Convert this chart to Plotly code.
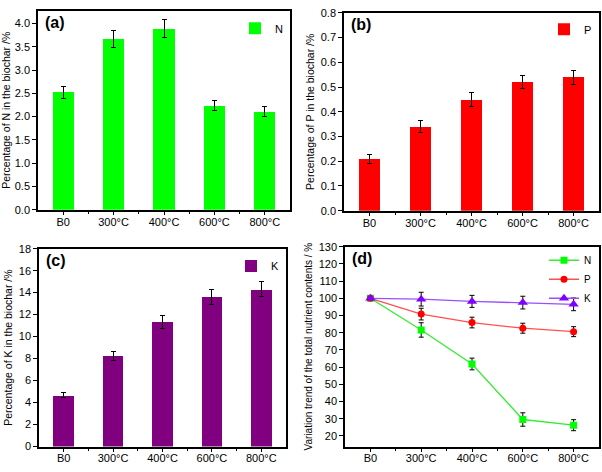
import plotly.graph_objects as go
from plotly.subplots import make_subplots

categories = ['B0', '300°C', '400°C', '600°C', '800°C']

n_pct = [2.52, 3.67, 3.89, 2.24, 2.11]
n_pct_err = [0.125, 0.18, 0.20, 0.11, 0.10]

p_pct = [0.21, 0.34, 0.45, 0.52, 0.54]
p_pct_err = [0.019, 0.024, 0.027, 0.028, 0.028]

k_pct = [4.66, 8.26, 11.36, 13.6, 14.31]
k_pct_err = [0.24, 0.42, 0.59, 0.68, 0.68]

n_trend = [100, 81.6, 61.8, 29.5, 26.2]
n_trend_err = [0, 4.2, 3.4, 3.9, 3.2]
p_trend = [100, 90.8, 85.9, 82.6, 80.6]
p_trend_err = [0, 3.4, 3.1, 2.9, 2.9]
k_trend = [100, 99.5, 98.2, 97.5, 96.5]
k_trend_err = [0, 4.0, 3.5, 3.7, 3.7]

xs = list(range(len(categories)))
W, H = 602, 472
FONT = 'Arial, Liberation Sans, sans-serif'

fig = make_subplots(rows=2, cols=2)

def err(vals):
    return dict(type='data', array=vals, color='black', thickness=1, width=2.5)

fig.add_trace(go.Bar(x=xs, y=n_pct, error_y=err(n_pct_err), name='N', width=0.42, showlegend=True,
                     marker=dict(color='#00ff00', line=dict(width=0)), legend='legend'), 1, 1)
fig.add_trace(go.Bar(x=xs, y=p_pct, error_y=err(p_pct_err), name='P', width=0.42, showlegend=True,
                     marker=dict(color='#ff0000', line=dict(width=0)), legend='legend2'), 1, 2)
fig.add_trace(go.Bar(x=xs, y=k_pct, error_y=err(k_pct_err), name='K', width=0.42, showlegend=True,
                     marker=dict(color='#800080', line=dict(width=0)), legend='legend3'), 2, 1)

for name, vals, e, col, lcol, sym, size in [
        ('N', n_trend, n_trend_err, '#00ff00', '#33ee33', 'square', 7),
        ('P', p_trend, p_trend_err, '#ff0000', '#ff5050', 'circle', 7),
        ('K', k_trend, k_trend_err, '#8000ff', '#9950ff', 'triangle-up', 9)]:
    fig.add_trace(go.Scatter(x=xs, y=vals, error_y=err(e), name=name, mode='lines+markers',
                             line=dict(color=lcol, width=1.3), showlegend=True,
                             marker=dict(color=col, symbol=sym, size=size),
                             legend='legend4'), 2, 2)

# pixel boxes of the four plot areas: (left, right, top, bottom)
boxes = {1: (38, 290, 5, 209), 2: (344, 599, 7, 210), 3: (39, 286, 249, 452), 4: (345, 599, 247, 452)}
yset = {
    1: dict(range=[0, 4.27], dtick=0.5, tickformat='.1f', title='Percentage of N in the biochar /%'),
    2: dict(range=[0, 0.8], dtick=0.1, tickformat='.1f', title='Percentage of P in the biochar /%'),
    3: dict(range=[0, 18], dtick=2, tickformat='d', title='Percentage of K in the biochar /%'),
    4: dict(range=[13.8, 130], tick0=20, dtick=10, tickformat='d',
            title='Variation trend of the total nutrient contents / %'),
}
axis_common = dict(showline=True, linecolor='black', linewidth=1.5, mirror=True,
                   ticks='outside', ticklen=4, tickwidth=1.2, tickcolor='black',
                   showgrid=False, zeroline=False, tickfont=dict(size=11, color='black'))
for i in range(1, 5):
    l, r, t, b = boxes[i]
    xk = 'xaxis' if i == 1 else f'xaxis{i}'
    yk = 'yaxis' if i == 1 else f'yaxis{i}'
    fig.layout[xk].update(domain=[l / W, r / W], range=[-0.5, 4.5], tickmode='array',
                          tickvals=xs, ticktext=categories, ticklabelstandoff=-3,
                          minor=dict(tickvals=[v + 0.5 for v in xs[:-1]], ticklen=3,
                                     ticks='outside', tickwidth=1.2, tickcolor='black'),
                          **axis_common)
    ys = yset[i]
    fig.layout[yk].update(domain=[1 - b / H, 1 - t / H], range=ys['range'], dtick=ys['dtick'],
                          tick0=ys.get('tick0', 0), tickformat=ys['tickformat'],
                          title=dict(text=ys['title'], font=dict(size=10.5 if i < 4 else 10, color='black'),
                                     standoff=4),
                          **axis_common)

labels = ['(a)', '(b)', '(c)', '(d)']
for i, lab in enumerate(labels, start=1):
    l, r, t, b = boxes[i]
    fig.add_annotation(text='<b>%s</b>' % lab, x=(l + 5) / W, y=1 - (t + 1) / H,
                       xref='paper', yref='paper', xanchor='left', yanchor='top',
                       showarrow=False, font=dict(size=16, color='black', family=FONT))

leg = dict(bgcolor='rgba(0,0,0,0)', font=dict(size=11, color='black'),
           xanchor='right', yanchor='top', itemwidth=30)
fig.update_layout(
    width=W, height=H, margin=dict(l=0, r=0, t=0, b=0),
    paper_bgcolor='white', plot_bgcolor='white', showlegend=True,
    font=dict(family=FONT, color='black'), bargap=0,
    legend=dict(leg, x=288 / W, y=1 - 8 / H),
    legend2=dict(leg, x=597 / W, y=1 - 9 / H),
    legend3=dict(leg, x=284 / W, y=1 - 252 / H),
    legend4=dict(leg, x=597 / W, y=1 - 246 / H, tracegroupgap=0, font=dict(size=10, color='black')),
)

fig.write_html('out.html', config={'displayModeBar': False},
               post_script="document.body.style.margin='0';")
